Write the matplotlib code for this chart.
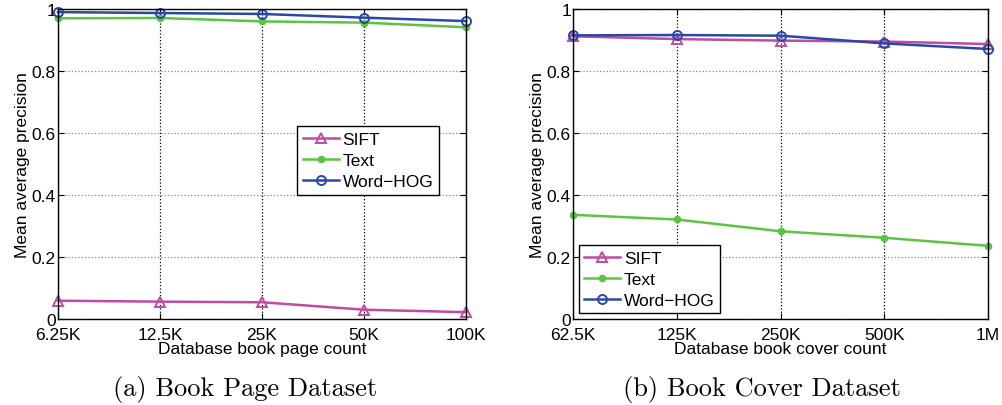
import matplotlib
matplotlib.use("Agg")
import matplotlib.pyplot as plt

plt.rcParams["font.family"] = ["Liberation Sans", "DejaVu Sans"]

page_labels = ["6.25K", "12.5K", "25K", "50K", "100K"]
page_sift = [0.059, 0.056, 0.054, 0.030, 0.022]
page_text = [0.970, 0.971, 0.960, 0.956, 0.941]
page_hog = [0.990, 0.987, 0.984, 0.972, 0.961]

cover_labels = ["62.5K", "125K", "250K", "500K", "1M"]
cover_sift = [0.912, 0.903, 0.898, 0.895, 0.887]
cover_text = [0.336, 0.321, 0.283, 0.262, 0.236]
cover_hog = [0.915, 0.916, 0.914, 0.889, 0.871]

c_sift = "#c04ba0"
c_text = "#5cc443"
c_hog = "#2b48a8"

fig = plt.figure(figsize=(10.02, 4.06), dpi=100)
ax1 = fig.add_axes([58 / 1002, 1 - 320 / 406, 408 / 1002, 310 / 406])
ax2 = fig.add_axes([573 / 1002, 1 - 320 / 406, 415 / 1002, 310 / 406])


def draw(ax, labels, sift, text, hog, xlabel, legend_loc, legend_anchor):
    x = range(len(labels))
    ax.plot(x, sift, color=c_sift, marker="^", markersize=6.5, markerfacecolor="none",
            markeredgewidth=1.4, linewidth=1.8, label="SIFT", clip_on=False)
    ax.plot(x, text, color=c_text, marker="o", markersize=4.5, linewidth=1.8,
            label="Text", clip_on=False)
    ax.plot(x, hog, color=c_hog, marker="o", markersize=6.5, markerfacecolor="none",
            markeredgewidth=1.4, linewidth=1.8, label="Word\u2212HOG", clip_on=False)
    ax.set_xlim(0, len(labels) - 1)
    ax.set_ylim(0, 1)
    ax.set_xticks(list(x))
    ax.set_xticklabels(labels)
    ax.set_yticks([0, 0.2, 0.4, 0.6, 0.8, 1])
    ax.set_yticklabels(["0", "0.2", "0.4", "0.6", "0.8", "1"])
    ax.tick_params(direction="in", labelsize=12.5, length=4, top=True, right=True)
    ax.tick_params(axis="y", pad=1.5)
    ax.tick_params(axis="x", pad=6)
    ax.xaxis.grid(True, linestyle=":", color="black", linewidth=0.9)
    ax.yaxis.grid(True, linestyle=":", color="#888888", linewidth=0.9)
    ax.set_xlabel(xlabel, fontsize=12.5, labelpad=-1)
    ax.set_ylabel("Mean average precision", fontsize=12.5, labelpad=1)
    for s in ax.spines.values():
        s.set_linewidth(1.0)
    leg = ax.legend(loc=legend_loc, bbox_to_anchor=legend_anchor, fontsize=12.5,
                    fancybox=False, framealpha=1, edgecolor="black",
                    handlelength=2.1, handletextpad=0.2, borderpad=0.3,
                    labelspacing=0.35, borderaxespad=0)
    leg.get_frame().set_linewidth(1.0)


draw(ax1, page_labels, page_sift, page_text, page_hog,
     "Database book page count", "upper left", (0.587, 0.621))
draw(ax2, cover_labels, cover_sift, cover_text, cover_hog,
     "Database book cover count", "lower left", (0.014, 0.018))

fig.text(245 / 1002, 1 - 390 / 406, "(a) Book Page Dataset", ha="center", va="center",
         fontsize=19, family=["cmr10", "DejaVu Serif"])
fig.text(762 / 1002, 1 - 390 / 406, "(b) Book Cover Dataset", ha="center", va="center",
         fontsize=19, family=["cmr10", "DejaVu Serif"])

fig.savefig("out.png", dpi=100)
